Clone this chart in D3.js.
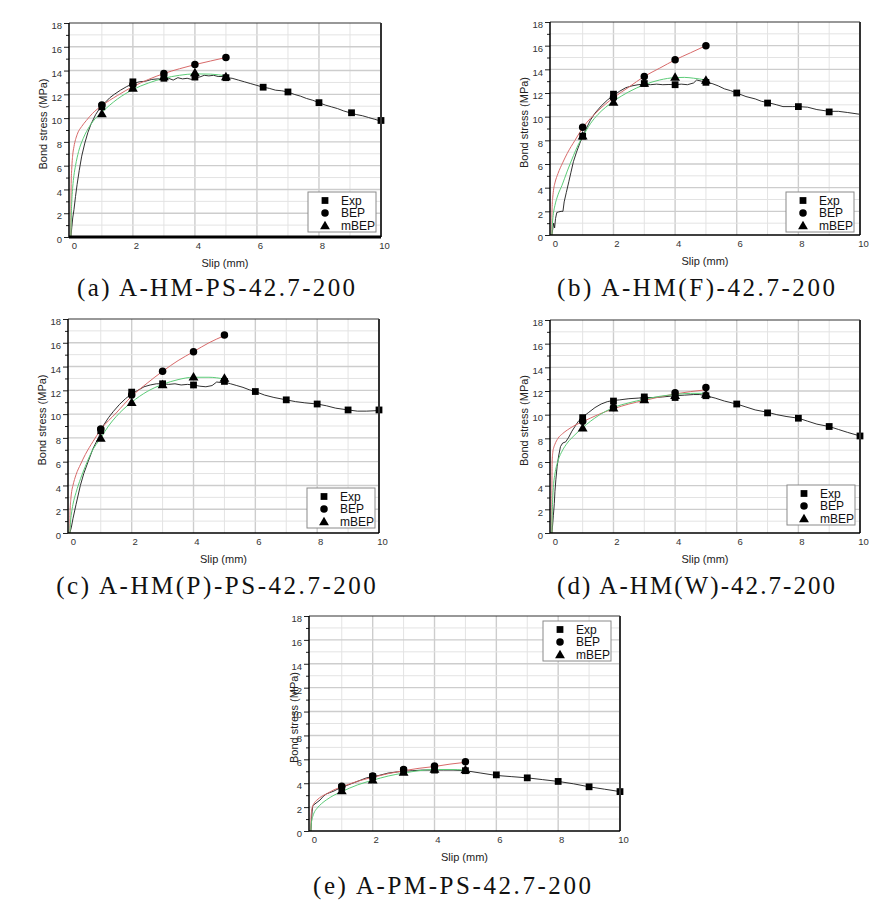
<!DOCTYPE html>
<html><head><meta charset="utf-8">
<script src="https://cdn.jsdelivr.net/npm/d3@7"></script>
<style>html,body{margin:0;padding:0;background:#fff;} svg{display:block}</style>
</head><body>
<svg id="chart" width="878" height="900"></svg>
<script>
// ---------- tick labels / categories ----------
const xTicks = [0, 2, 4, 6, 8, 10];
const yTicks = [0, 2, 4, 6, 8, 10, 12, 14, 16, 18];
const legendLabels = ["Exp", "BEP", "mBEP"];
const captions = ["(a) A-HM-PS-42.7-200", "(b) A-HM(F)-42.7-200", "(c) A-HM(P)-PS-42.7-200", "(d) A-HM(W)-42.7-200", "(e) A-PM-PS-42.7-200"];
const xLabel = "Slip (mm)";
const yLabel = "Bond stress (MPa)";

// ---------- (a) ----------
const expA = [[0,0],[0.03,0.8],[0.06,1.6],[0.1,2.3],[0.15,3.4],[0.2,4.4],[0.27,5.6],[0.35,6.8],[0.45,7.9],[0.55,8.8],[0.65,9.5],[0.8,10.3],[0.9,10.7],[1,11.0],[1.1,11.3],[1.25,11.7],[1.4,12.0],[1.6,12.35],[1.8,12.65],[2,12.9],[2.2,13.05],[2.4,13.1],[2.6,13.25],[2.8,13.3],[3,13.25],[3.15,13.35],[3.3,13.2],[3.45,13.4],[3.6,13.3],[3.75,13.35],[3.9,13.25],[4,13.4],[4.15,13.45],[4.3,13.6],[4.45,13.55],[4.6,13.6],[4.75,13.5],[4.9,13.5],[5,13.4],[5.2,13.35],[5.4,13.2],[5.6,13.05],[5.8,12.9],[6,12.75],[6.2,12.6],[6.4,12.5],[6.6,12.35],[6.8,12.3],[7,12.2],[7.2,12.0],[7.4,11.85],[7.6,11.65],[7.8,11.5],[8,11.3],[8.2,11.1],[8.4,10.95],[8.6,10.8],[8.8,10.6],[9,10.45],[9.2,10.3],[9.4,10.2],[9.6,10.05],[9.8,9.9],[10,9.75]];
const expMarkA = [[1,10.95],[2,13.05],[3,13.35],[4,13.45],[5,13.4],[6.2,12.6],[7,12.2],[8,11.3],[9.05,10.45],[10,9.8]];
const bepA = [[0,0],[0.005,3.0],[0.01,4.5],[0.03,5.8],[0.06,6.9],[0.1,7.6],[0.2,8.6],[0.35,9.3],[0.5,9.8],[0.7,10.4],[1,11.05],[1.5,11.9],[2,12.65],[2.5,13.25],[3,13.75],[3.5,14.15],[4,14.5],[4.5,14.8],[5,15.1]];
const bepMarkA = [[1,11.1],[2,12.8],[3,13.75],[4,14.5],[5,15.1]];
const mbepA = [[0,0],[0.01,1.5],[0.03,3.0],[0.06,4.2],[0.1,5.2],[0.15,6.0],[0.25,7.2],[0.4,8.3],[0.6,9.3],[0.8,10.0],[1,10.5],[1.5,11.6],[2,12.4],[2.5,12.95],[3,13.35],[3.5,13.6],[4,13.72],[4.5,13.7],[5,13.55]];
const mbepMarkA = [[1,10.4],[2,12.55],[3,13.5],[4,13.85],[5,13.5]];

// ---------- (b) ----------
const expB = [[0,0],[0.03,0.5],[0.06,1.0],[0.09,0.6],[0.12,1.4],[0.16,1.9],[0.22,1.95],[0.3,2.0],[0.36,2.0],[0.4,2.8],[0.47,3.6],[0.55,4.5],[0.62,5.3],[0.7,6.2],[0.8,7.0],[0.9,7.7],[1,8.35],[1.1,8.9],[1.25,9.7],[1.4,10.3],[1.6,10.9],[1.8,11.4],[2,11.8],[2.2,12.15],[2.4,12.45],[2.6,12.6],[2.8,12.7],[3,12.75],[3.2,12.7],[3.4,12.75],[3.6,12.7],[3.8,12.72],[4,12.7],[4.2,12.75],[4.4,12.7],[4.6,12.85],[4.7,13.1],[4.85,13.0],[5,12.9],[5.2,12.8],[5.4,12.6],[5.6,12.35],[5.8,12.2],[6,12.0],[6.3,11.7],[6.6,11.5],[6.8,11.3],[7,11.2],[7.3,11.0],[7.5,10.85],[7.8,10.85],[8,10.85],[8.3,10.8],[8.6,10.6],[9,10.45],[9.3,10.45],[9.6,10.35],[10,10.2]];
const expMarkB = [[1,8.35],[2,11.9],[3,12.8],[4,12.7],[5,12.9],[6,12.0],[7,11.15],[8,10.85],[9,10.4]];
const bepB = [[0,0],[0.003,1.5],[0.01,2.4],[0.03,3.2],[0.06,3.9],[0.1,4.4],[0.2,5.2],[0.35,6.1],[0.5,6.9],[0.75,8.0],[1,9.05],[1.5,10.5],[2,11.6],[2.5,12.5],[3,13.4],[3.5,14.1],[4,14.8],[4.5,15.4],[5,16.0]];
const bepMarkB = [[1,9.1],[2,11.6],[3,13.4],[4,14.8],[5,16.0]];
const mbepB = [[0,0],[0.02,1.0],[0.05,1.8],[0.1,2.5],[0.2,3.4],[0.33,4.2],[0.5,5.4],[0.7,6.7],[0.85,7.6],[1,8.3],[1.25,9.4],[1.5,10.2],[1.75,10.8],[2,11.3],[2.5,12.1],[3,12.7],[3.5,13.1],[4,13.3],[4.3,13.32],[4.6,13.25],[5,13.1]];
const mbepMarkB = [[1,8.4],[2,11.25],[3,12.85],[4,13.35],[5,13.1]];

// ---------- (c) ----------
const expC = [[0,0],[0.05,0.5],[0.1,1.2],[0.2,2.4],[0.34,4.0],[0.45,5.0],[0.59,6.0],[0.75,7.1],[0.94,8.1],[1,8.6],[1.1,9.1],[1.25,9.7],[1.4,10.2],[1.6,10.8],[1.8,11.3],[2,11.7],[2.2,12.0],[2.4,12.3],[2.6,12.45],[2.8,12.55],[3,12.55],[3.2,12.5],[3.4,12.55],[3.6,12.45],[3.8,12.5],[4,12.45],[4.2,12.35],[4.4,12.3],[4.6,12.4],[4.75,12.7],[4.9,12.65],[5,12.7],[5.2,12.55],[5.4,12.4],[5.6,12.25],[5.8,12.05],[6,11.9],[6.3,11.6],[6.6,11.4],[7,11.2],[7.3,11.05],[7.6,10.95],[8,10.85],[8.3,10.7],[8.6,10.5],[9,10.35],[9.3,10.25],[9.6,10.25],[10,10.3]];
const expMarkC = [[1,8.6],[2,11.85],[3,12.55],[4,12.45],[5,12.75],[6,11.9],[7,11.2],[8,10.85],[9,10.35],[10,10.35]];
const bepC = [[0,0],[0.003,1.3],[0.01,2.0],[0.03,2.8],[0.06,3.5],[0.1,4.0],[0.2,4.9],[0.35,5.8],[0.5,6.6],[0.75,7.7],[1,8.7],[1.5,10.1],[2,11.5],[2.5,12.6],[3,13.6],[3.5,14.5],[4,15.25],[4.5,16.0],[5,16.6]];
const bepMarkC = [[1,8.75],[2,11.6],[3,13.6],[4,15.25],[5,16.65]];
const mbepC = [[0,0],[0.02,0.9],[0.05,1.6],[0.1,2.4],[0.2,3.4],[0.35,4.6],[0.5,5.6],[0.7,6.8],[1,8.0],[1.25,9.0],[1.5,9.8],[2,11.0],[2.5,11.9],[3,12.5],[3.5,12.9],[4,13.1],[4.5,13.1],[5,12.95]];
const mbepMarkC = [[1,8.0],[2,11.0],[3,12.5],[4,13.15],[5,13.05]];

// ---------- (d) ----------
const expD = [[0,0],[0.02,0.5],[0.05,1.5],[0.08,2.5],[0.1,3.5],[0.13,4.5],[0.17,5.6],[0.22,6.5],[0.28,7.3],[0.35,7.6],[0.45,7.7],[0.55,8.1],[0.65,8.6],[0.75,9.0],[0.85,9.4],[1,9.8],[1.2,10.2],[1.4,10.6],[1.6,10.9],[1.8,11.1],[2,11.2],[2.2,11.25],[2.5,11.35],[2.8,11.4],[3,11.45],[3.3,11.45],[3.6,11.5],[4,11.6],[4.3,11.65],[4.6,11.7],[4.8,11.7],[5,11.6],[5.3,11.4],[5.6,11.15],[6,10.9],[6.3,10.65],[6.6,10.4],[7,10.2],[7.3,10.0],[7.6,9.85],[8,9.7],[8.3,9.45],[8.6,9.2],[9,9.0],[9.3,8.75],[9.6,8.5],[10,8.2]];
const expMarkD = [[1,9.75],[2,11.15],[3,11.5],[4,11.45],[5,11.6],[6,10.9],[7,10.15],[8,9.7],[9,9.0],[10,8.2]];
const bepD = [[0,0],[0.003,4.0],[0.01,6.0],[0.03,6.8],[0.06,7.2],[0.1,7.5],[0.2,8.0],[0.35,8.4],[0.5,8.7],[0.75,9.1],[1,9.4],[1.5,10.0],[2,10.5],[2.5,10.9],[3,11.2],[3.5,11.5],[4,11.75],[4.5,11.95],[5,12.1]];
const bepMarkD = [[1,9.45],[2,10.6],[3,11.35],[4,11.85],[5,12.3]];
const mbepD = [[0,0],[0.01,1.5],[0.03,3.0],[0.06,4.2],[0.1,5.0],[0.2,6.1],[0.35,7.0],[0.5,7.6],[0.75,8.3],[1,8.9],[1.5,9.9],[2,10.6],[2.5,11.0],[3,11.3],[3.5,11.55],[4,11.7],[4.5,11.8],[5,11.8]];
const mbepMarkD = [[1,8.9],[2,10.6],[3,11.3],[4,11.65],[5,11.75]];

// ---------- (e) ----------
const expE = [[0,0],[0.02,0.8],[0.04,1.6],[0.06,2.1],[0.1,2.2],[0.2,2.4],[0.3,2.6],[0.4,2.9],[0.5,3.1],[0.6,3.2],[0.75,3.35],[0.9,3.55],[1,3.65],[1.2,3.85],[1.4,4.05],[1.6,4.25],[1.8,4.45],[2,4.55],[2.2,4.65],[2.5,4.85],[2.8,4.95],[3,5.0],[3.3,5.05],[3.6,5.1],[4,5.1],[4.3,5.1],[4.6,5.1],[5,5.05],[5.5,4.85],[6,4.65],[6.5,4.55],[7,4.45],[7.5,4.3],[8,4.15],[8.5,3.95],[9,3.7],[9.5,3.5],[10,3.3]];
const expMarkE = [[1,3.65],[2,4.55],[3,5.05],[4,5.1],[5,5.05],[6,4.7],[7,4.45],[8,4.15],[9,3.7],[10,3.3]];
const bepE = [[0,0],[0.005,1.0],[0.02,1.6],[0.05,2.0],[0.1,2.3],[0.2,2.6],[0.35,2.9],[0.5,3.1],[0.75,3.45],[1,3.7],[1.5,4.15],[2,4.5],[2.5,4.8],[3,5.05],[3.5,5.25],[4,5.4],[4.5,5.6],[5,5.75]];
const bepMarkE = [[1,3.75],[2,4.6],[3,5.15],[4,5.45],[5,5.8]];
const mbepE = [[0,0],[0.01,0.5],[0.03,0.9],[0.06,1.2],[0.1,1.5],[0.2,1.9],[0.35,2.3],[0.5,2.6],[0.75,3.0],[1,3.3],[1.5,3.85],[2,4.25],[2.5,4.6],[3,4.85],[3.5,5.05],[4,5.15],[4.5,5.15],[5,5.1]];
const mbepMarkE = [[1,3.4],[2,4.3],[3,4.95],[4,5.2],[5,5.15]];

// ---------- layout ----------
const panels = [
  {cap: captions[0], exp: expA, expMk: expMarkA, bep: bepA, bepMk: bepMarkA, mbep: mbepA, mbepMk: mbepMarkA,
   left: 69, top: 23, w: 312, h: 214, legX: 308, legY: 192, capX: 216, capY: 296, ylabDx: -26, bottomW: 3},
  {cap: captions[1], exp: expB, expMk: expMarkB, bep: bepB, bepMk: bepMarkB, mbep: mbepB, mbepMk: mbepMarkB,
   left: 550, top: 22, w: 310, h: 213, legX: 786, legY: 192, capX: 696, capY: 296, ylabDx: -26, bottomW: 1.5},
  {cap: captions[2], exp: expC, expMk: expMarkC, bep: bepC, bepMk: bepMarkC, mbep: mbepC, mbepMk: mbepMarkC,
   left: 68, top: 319, w: 311, h: 214, legX: 307, legY: 488, capX: 216, capY: 594, ylabDx: -26, bottomW: 1.5},
  {cap: captions[3], exp: expD, expMk: expMarkD, bep: bepD, bepMk: bepMarkD, mbep: mbepD, mbepMk: mbepMarkD,
   left: 550, top: 320, w: 310, h: 213, legX: 787, legY: 485, capX: 696, capY: 594, ylabDx: -26, bottomW: 1.5},
  {cap: captions[4], exp: expE, expMk: expMarkE, bep: bepE, bepMk: bepMarkE, mbep: mbepE, mbepMk: mbepMarkE,
   left: 309, top: 616, w: 311, h: 215, legX: 543, legY: 621, capX: 452, capY: 894, ylabDx: -15, bottomW: 1.5}
];

const COL_BEP = "#d86a6a", COL_MBEP = "#5ccc78", COL_EXP = "#1a1a1a";
const FONT = "'Liberation Sans', Arial, sans-serif";
const svg = d3.select("#chart");
const symSquare = d3.symbol().type(d3.symbolSquare).size(46);
const symCircle = d3.symbol().type(d3.symbolCircle).size(44);
const symTri = d3.symbol().type(d3.symbolTriangle).size(42);

function drawPanel(p) {
  const x = d3.scaleLinear().domain([-0.06, 10]).range([p.left, p.left + p.w]);
  const y = d3.scaleLinear().domain([0, 18]).range([p.top + p.h, p.top]);
  const g = svg.append("g");

  // grid
  const gx = x.ticks(10).filter(v => v > 0 && v < 10);
  const gy = y.ticks(18).filter(v => v > 0 && v < 18);
  g.append("g").selectAll("line").data(gx).join("line")
    .attr("x1", d => x(d)).attr("x2", d => x(d)).attr("y1", p.top).attr("y2", p.top + p.h)
    .attr("stroke", d => d % 2 === 0 ? "#cdcdcd" : "#e3e3e3").attr("stroke-width", d => d % 2 === 0 ? 1.4 : 1);
  g.append("g").selectAll("line").data(gy).join("line")
    .attr("y1", d => y(d)).attr("y2", d => y(d)).attr("x1", p.left).attr("x2", p.left + p.w)
    .attr("stroke", d => d % 2 === 0 ? "#cdcdcd" : "#e3e3e3").attr("stroke-width", d => d % 2 === 0 ? 1.4 : 1);

  // y axis (major + minor ticks)
  const yAx = g.append("g").attr("transform", `translate(${p.left},0)`)
    .call(d3.axisLeft(y).tickValues(yTicks).tickSize(5).tickPadding(2).tickSizeOuter(0));
  yAx.select(".domain").remove();
  yAx.selectAll("text").attr("font-family", FONT).attr("font-size", 9.5).attr("fill", "#333").attr("dy", "0.6em");
  yAx.selectAll("line").attr("stroke", "#222");
  const yMin = g.append("g").attr("transform", `translate(${p.left},0)`)
    .call(d3.axisLeft(y).tickValues(y.ticks(18).filter(v => v % 2 === 1)).tickSize(3).tickFormat(""));
  yMin.select(".domain").remove();
  yMin.selectAll("line").attr("stroke", "#222");

  // x axis labels
  const xAx = g.append("g").attr("transform", `translate(0,${p.top + p.h})`)
    .call(d3.axisBottom(x).tickValues(xTicks).tickSize(0).tickPadding(5));
  xAx.select(".domain").remove();
  xAx.selectAll("text").attr("font-family", FONT).attr("font-size", 9.5).attr("fill", "#333").attr("dx", 3);

  // lines
  const lineLin = d3.line().x(d => x(d[0])).y(d => y(d[1]));
  const lineSmooth = d3.line().x(d => x(d[0])).y(d => y(d[1])).curve(d3.curveMonotoneX);
  const clipId = "clip" + p.left + "_" + p.top;
  svg.append("clipPath").attr("id", clipId).append("rect")
    .attr("x", p.left).attr("y", p.top).attr("width", p.w).attr("height", p.h);
  const lg = g.append("g").attr("clip-path", `url(#${clipId})`);
  lg.append("path").datum(p.exp).attr("d", lineLin).attr("fill", "none").attr("stroke", COL_EXP).attr("stroke-width", 0.9);
  lg.append("path").datum(p.bep).attr("d", lineSmooth).attr("fill", "none").attr("stroke", COL_BEP).attr("stroke-width", 1);
  lg.append("path").datum(p.mbep).attr("d", lineSmooth).attr("fill", "none").attr("stroke", COL_MBEP).attr("stroke-width", 1);

  // markers
  g.append("g").selectAll("path").data(p.bepMk).join("path")
    .attr("d", symCircle).attr("transform", d => `translate(${x(d[0])},${y(d[1])})`).attr("fill", "#000");
  g.append("g").selectAll("path").data(p.mbepMk).join("path")
    .attr("d", symTri).attr("transform", d => `translate(${x(d[0])},${y(d[1]) + 1})`).attr("fill", "#000");
  g.append("g").selectAll("path").data(p.expMk).join("path")
    .attr("d", symSquare).attr("transform", d => `translate(${x(d[0])},${y(d[1])})`).attr("fill", "#000");

  // frame
  const L = p.left, R = p.left + p.w, T = p.top, B = p.top + p.h;
  g.append("line").attr("x1", L).attr("x2", R).attr("y1", T).attr("y2", T).attr("stroke", "#333").attr("stroke-width", 1.2);
  g.append("line").attr("x1", R).attr("x2", R).attr("y1", T).attr("y2", B).attr("stroke", "#333").attr("stroke-width", 2);
  g.append("line").attr("x1", L).attr("x2", L).attr("y1", T).attr("y2", B).attr("stroke", "#000").attr("stroke-width", 1.5);
  g.append("line").attr("x1", L).attr("x2", R).attr("y1", B).attr("y2", B).attr("stroke", "#000").attr("stroke-width", p.bottomW);

  // axis titles
  g.append("text").attr("x", (L + R) / 2).attr("y", B + 30).attr("text-anchor", "middle")
    .attr("font-family", FONT).attr("font-size", 11).attr("fill", "#222").text(xLabel);
  g.append("text").attr("transform", `translate(${L + p.ylabDx + 4},${(T + B) / 2 - 6}) rotate(-90)`)
    .attr("text-anchor", "middle").attr("font-family", FONT).attr("font-size", 11).attr("fill", "#222").text(yLabel);

  // legend
  const leg = g.append("g").attr("transform", `translate(${p.legX},${p.legY})`);
  leg.append("rect").attr("width", 68).attr("height", 40).attr("fill", "#fff").attr("stroke", "#8a8a8a").attr("stroke-width", 1);
  const syms = [symSquare, symCircle, symTri];
  legendLabels.forEach((t, i) => {
    const cy = 8.5 + i * 12.5;
    leg.append("path").attr("d", syms[i]).attr("transform", `translate(17,${cy + (i === 2 ? 1 : 0)})`).attr("fill", "#000");
    leg.append("text").attr("x", 33).attr("y", cy + 4.2).attr("font-family", FONT).attr("font-size", 12)
      .attr("fill", "#111").text(t);
  });

  // caption
  svg.append("text").attr("x", p.capX).attr("y", p.capY).attr("text-anchor", "middle")
    .attr("font-family", "'Liberation Serif', 'DejaVu Serif', serif").attr("font-size", 25).attr("fill", "#111")
    .attr("textLength", p.cap.length * 13.9).attr("lengthAdjust", "spacing").text(p.cap);
}

panels.forEach(drawPanel);
</script>
</body></html>
